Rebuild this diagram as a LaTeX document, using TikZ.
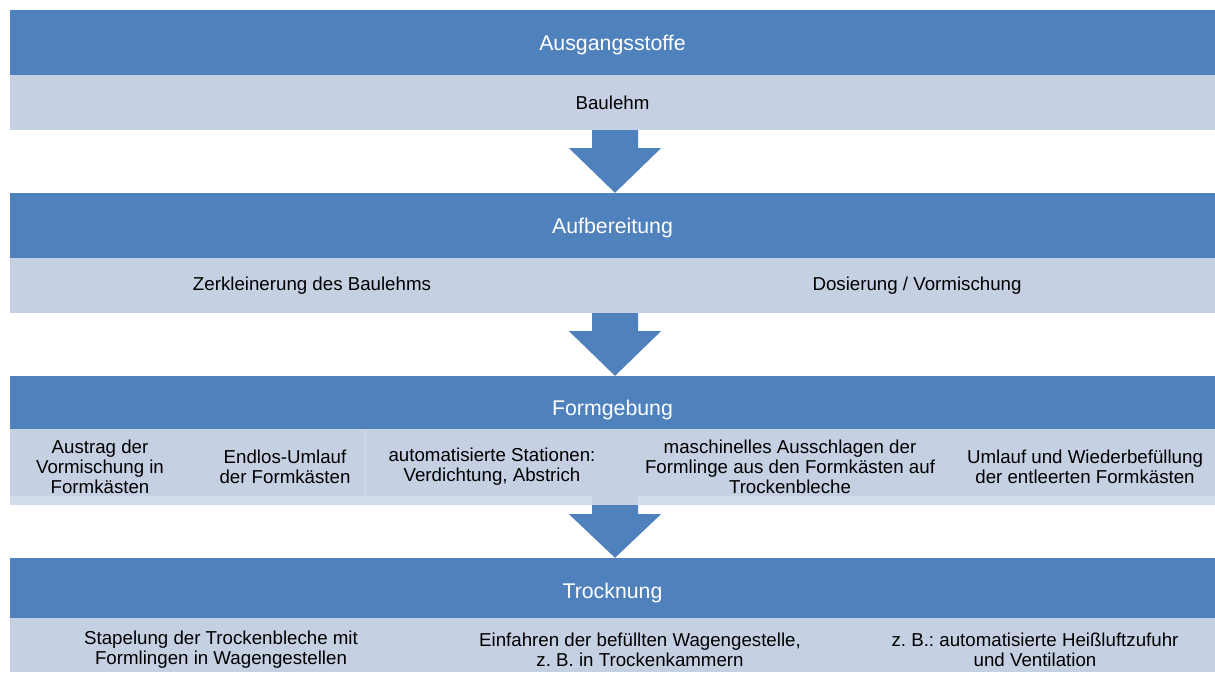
\documentclass[tikz,border=0pt]{standalone}
\usepackage{fontspec}
\setmainfont{Liberation Sans}
\frenchspacing
\usetikzlibrary{positioning}
\definecolor{stufe}{HTML}{4F81BD}
\definecolor{feld}{HTML}{C5D0E3}
\definecolor{saum}{HTML}{D3DCEB}
\tikzset{
  kopf/.style={fill=stufe,text=white,minimum width=1205pt,inner sep=0pt,text height=19.5pt,text depth=4.5pt,font=\fontsize{21.3}{24}\selectfont},
  band/.style={fill=feld,minimum width=1205pt,inner sep=0pt,font=\fontsize{18.7}{20}\selectfont},
  eintrag/.style={align=center,inner sep=0pt,font=\fontsize{18.7}{20}\selectfont}
}
\begin{document}
\begin{tikzpicture}[x=1pt,y=-1pt]
  \useasboundingbox (0,0) rectangle (1215,672);
  % Stufen
  \node[kopf,minimum height=65pt] (aus) at (612.5,42.5) {Ausgangsstoffe};
  \node[band,minimum height=55pt] (baulehm) at (612.5,102.5) {Baulehm};
  \node[kopf,minimum height=65pt] (auf) at (612.5,225.5) {Aufbereitung};
  \node[band,minimum height=55pt] (aufzeile) at (612.5,285.5) {};
  \node[kopf,minimum height=53pt,text height=30.5pt] (form) at (612.5,402.5) {Formgebung};
  \node[kopf,minimum height=60pt,text height=25.5pt] (troc) at (612.5,588) {Trocknung};
  \node[band,minimum height=67pt] (formfeld) at (612.5,462.5) {};
  \node[band,minimum height=54pt] (trocfeld) at (612.5,645) {};
  % Pfeile
  \foreach \von/\nach in {baulehm/auf,aufzeile/form,formfeld/troc}
    \fill[stufe] ([xshift=-20.5pt]\von.south) -- ([xshift=25.5pt]\von.south)
      -- ([xshift=25.5pt,yshift=-18pt]\von.south) -- ([xshift=48.5pt,yshift=-18pt]\von.south)
      -- ([xshift=2.5pt]\nach.north) -- ([xshift=-43.5pt,yshift=-18pt]\von.south)
      -- ([xshift=-20.5pt,yshift=-18pt]\von.south) -- cycle;
  \fill[feld] (592,496) rectangle (638,505);
  \fill[saum] (10,496) rectangle (592,505) (638,496) rectangle (1215,505);
  \draw[saum,line width=1pt] (365,429) -- (365,505);
  % Aufbereitung
  \node[eintrag] (zerkl) at (312,286) {Zerkleinerung des Baulehms};
  \node[eintrag] (dos) at (917,286) {Dosierung / Vormischung};
  % Formgebung
  \node[eintrag] (austrag) at (100,467) {Austrag der\\Vormischung in\\Formkästen};
  \node[eintrag] (endlos) at (285,467) {Endlos-Umlauf\\der Formkästen};
  \node[eintrag] (stat) at (492,467) {automatisierte Stationen:\\Verdichtung, Abstrich};
  \node[eintrag] (aussch) at (790,467) {maschinelles Ausschlagen der\\Formlinge aus den Formkästen auf\\Trockenbleche};
  \node[eintrag] (umlauf) at (1085,467) {Umlauf und Wiederbefüllung\\der entleerten Formkästen};
  % Trocknung
  \node[eintrag] (stap) at (221,650) {Stapelung der Trockenbleche mit\\Formlingen in Wagengestellen};
  \node[eintrag] (einf) at (640,650) {Einfahren der befüllten Wagengestelle,\\z. B. in Trockenkammern};
  \node[eintrag] (heiss) at (1035,650) {z. B.: automatisierte Heißluftzufuhr\\und Ventilation};
\end{tikzpicture}
\end{document}
